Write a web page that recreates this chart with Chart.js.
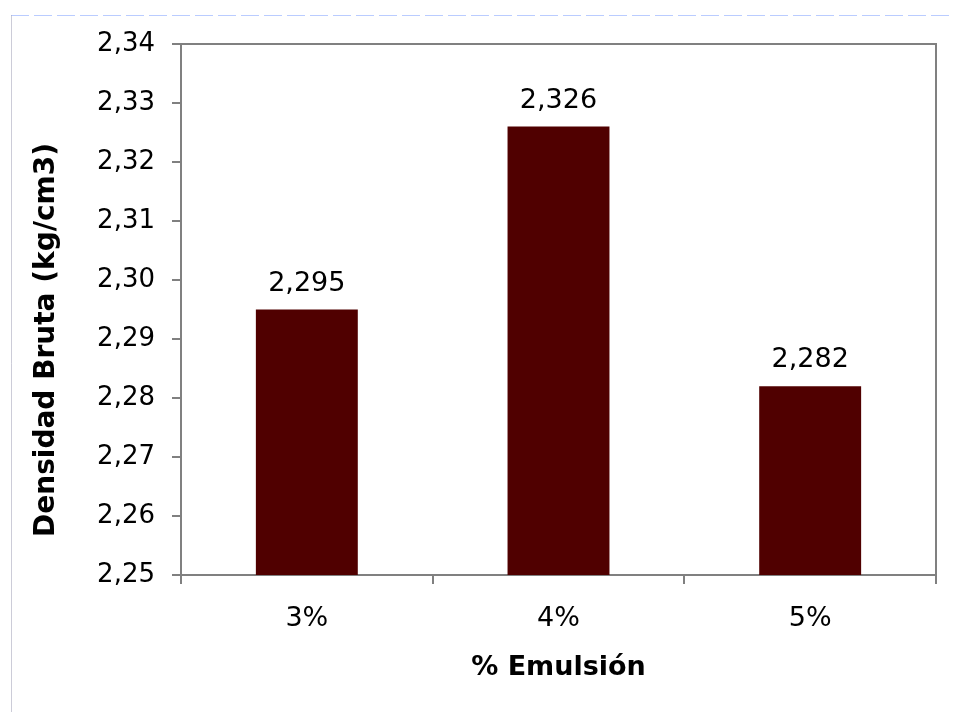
<!DOCTYPE html>
<html>
<head>
<meta charset="utf-8">
<script src="https://cdn.jsdelivr.net/npm/chart.js@4.4.1/dist/chart.umd.min.js"></script>
<style>
  html, body { margin: 0; padding: 0; background: #ffffff; }
  #wrap { width: 953px; height: 712px; position: relative; }
</style>
</head>
<body>
<div id="wrap"><canvas id="c" width="953" height="712"></canvas></div>
<script>
// ---- Data ----
const categories = ['3%', '4%', '5%'];
const densityValues = [2.295, 2.326, 2.282];
const yTickLabels = ['2,25', '2,26', '2,27', '2,28', '2,29', '2,30', '2,31', '2,32', '2,33', '2,34'];
const yMin = 2.25;
const yMax = 2.34;
const yStep = 0.01;
const yAxisTitle = 'Densidad Bruta (kg/cm3)';
const xAxisTitle = '% Emulsión';

const FONT = '"DejaVu Sans", Verdana, sans-serif';
const AXIS_GRAY = '#808080';
const BAR_COLOR = '#500000';

const decoPlugin = {
  id: 'deco',
  beforeDraw(chart) {
    const ctx = chart.ctx;
    ctx.save();
    ctx.fillStyle = '#ffffff';
    ctx.fillRect(0, 0, chart.width, chart.height);
    // faint outer frame (top and left)
    ctx.lineWidth = 1;
    ctx.strokeStyle = 'rgba(140,170,255,0.6)';
    ctx.setLineDash([18, 5]);
    ctx.beginPath();
    ctx.moveTo(11, 15.5);
    ctx.lineTo(953, 15.5);
    ctx.stroke();
    ctx.setLineDash([]);
    ctx.strokeStyle = 'rgba(170,170,190,0.6)';
    ctx.beginPath();
    ctx.moveTo(11.5, 15);
    ctx.lineTo(11.5, 712);
    ctx.stroke();
    ctx.restore();
  },
  afterDraw(chart) {
    const ctx = chart.ctx;
    const a = chart.chartArea;
    ctx.save();
    // plot-area frame (top and right)
    ctx.strokeStyle = AXIS_GRAY;
    ctx.lineWidth = 2;
    ctx.beginPath();
    ctx.moveTo(a.left, a.top);
    ctx.lineTo(a.right, a.top);
    ctx.lineTo(a.right, a.bottom);
    ctx.stroke();
    // axis titles
    ctx.fillStyle = '#000000';
    ctx.textAlign = 'center';
    ctx.textBaseline = 'middle';
    ctx.font = 'bold 27px ' + FONT;
    ctx.fillText(xAxisTitle, (a.left + a.right) / 2, 668);
    ctx.font = 'bold 28px ' + FONT;
    ctx.translate(47, 340);
    ctx.rotate(-Math.PI / 2);
    ctx.fillText(yAxisTitle, 0, 0);
    ctx.restore();
  },
  afterDatasetsDraw(chart) {
    const ctx = chart.ctx;
    const meta = chart.getDatasetMeta(0);
    ctx.save();
    ctx.fillStyle = '#000000';
    ctx.font = '27px ' + FONT;
    ctx.textAlign = 'center';
    ctx.textBaseline = 'alphabetic';
    meta.data.forEach((bar, i) => {
      const txt = densityValues[i].toFixed(3).replace('.', ',');
      ctx.fillText(txt, bar.x, bar.y - 19);
    });
    ctx.restore();
  }
};

new Chart(document.getElementById('c'), {
  type: 'bar',
  data: {
    labels: categories,
    datasets: [{
      data: densityValues,
      backgroundColor: BAR_COLOR,
      borderWidth: 0,
      categoryPercentage: 1.0,
      barPercentage: 0.405
    }]
  },
  options: {
    responsive: false,
    animation: false,
    devicePixelRatio: 1,
    layout: { padding: { top: 44, right: 17, left: 0, bottom: 0 } },
    plugins: {
      legend: { display: false },
      tooltip: { enabled: false }
    },
    scales: {
      x: {
        offset: true,
        grid: {
          display: true,
          offset: true,
          drawOnChartArea: false,
          drawTicks: true,
          tickLength: 9,
          color: AXIS_GRAY,
          lineWidth: 2
        },
        border: { display: true, color: AXIS_GRAY, width: 2 },
        ticks: {
          color: '#000000',
          font: { family: FONT, size: 27 },
          padding: 19,
          maxRotation: 0
        },
        afterFit(scale) { scale.height = 137; }
      },
      y: {
        min: yMin,
        max: yMax,
        grid: {
          display: true,
          drawOnChartArea: false,
          drawTicks: true,
          tickLength: 9,
          color: AXIS_GRAY,
          lineWidth: 2
        },
        border: { display: true, color: AXIS_GRAY, width: 2 },
        ticks: {
          stepSize: yStep,
          color: '#000000',
          font: { family: FONT, size: 26 },
          padding: 17,
          callback: (v, i) => yTickLabels[i]
        },
        afterFit(scale) { scale.width = 181; }
      }
    }
  },
  plugins: [decoPlugin]
});
</script>
</body>
</html>
